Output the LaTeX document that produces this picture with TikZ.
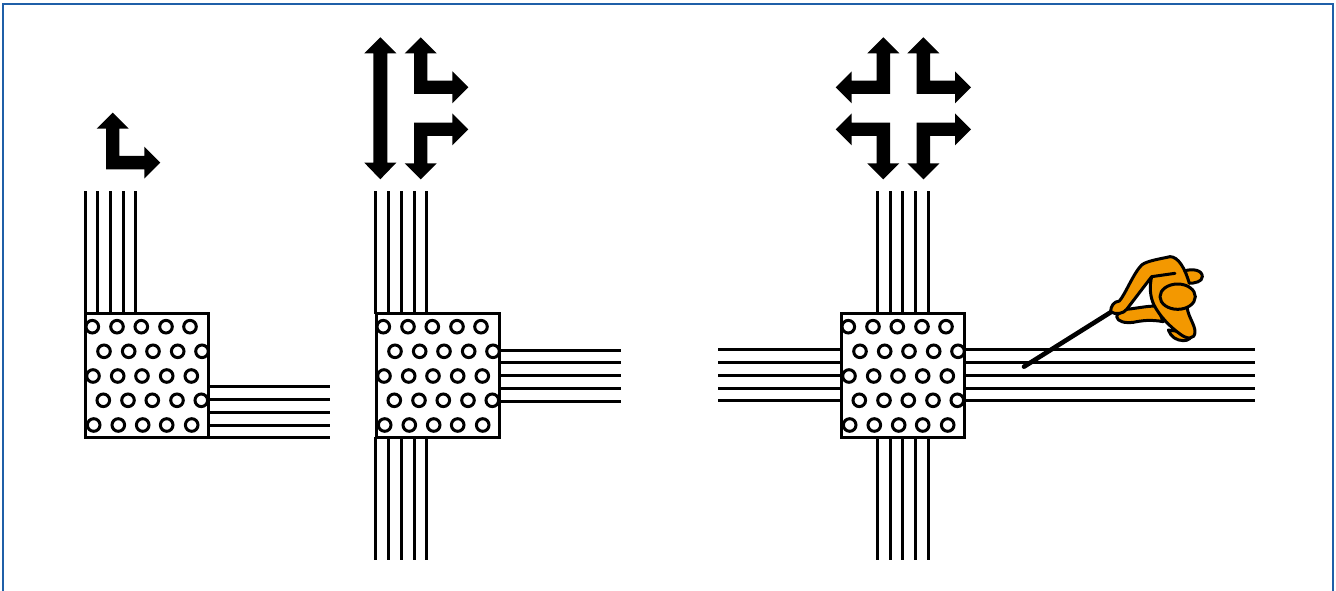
\documentclass[tikz,border=0pt]{standalone}
\definecolor{frameblue}{HTML}{1F5FA8}
\definecolor{walker}{HTML}{F39800}
\tikzset{
  line/.style={line width=3pt,black},
  dot/.style={line width=3pt,black,fill=white},
  tileedge/.style={line width=3pt,black},
  figure/.style={line width=3pt,black,fill=walker,line join=round},
  outline/.style={line width=3pt,black,line join=round,line cap=round},
  tile/.pic={
    \foreach \px/\py in {7.3/13,32/13,56.3/13,81/13,105/13,
                         19/37.6,43.7/37.6,68/37.6,92.7/37.6,117/37.6,
                         8/62.3,32.7/62.3,57/62.3,81.7/62.3,106.3/62.3,
                         18.3/86.6,43/86.6,67.3/86.6,92/86.6,116.3/86.6,
                         8.7/111.3,33.3/111.3,57.7/111.3,81.7/111.3,106.7/111.3}
      \draw[dot] (\px,\py) circle[radius=6.3pt];
    \draw[tileedge] (0,0) rectangle (123.7,123.3);
  }
}
\newcommand{\turnarrow}[4]{%
  \fill[black,shift={(#1,#2)},xscale=#3,yscale=#4]
    (0,0)--(38.3,0)--(38.3,9.3)--(54.3,-6.7)--(38.3,-22.7)--(38.3,-13.3)
    --(13.3,-13.3)--(13.3,-40.7)--(22.7,-40.7)--(6.7,-56.7)--(-9.3,-40.7)--(0,-40.7)--cycle;}
\begin{document}
\begin{tikzpicture}[x=1pt,y=-1pt]
\useasboundingbox (0,0) rectangle (1336,591);
\draw[line width=2pt,frameblue] (3.3,591)--(3.3,4.5)--(1333,4.5)--(1333,591);

% arrows
\turnarrow{106}{169.3}{1}{1}
\fill[black] (380.3,37.3)--(396.3,53.3)--(387.3,53.3)--(387.3,162.7)--(396.3,162.7)--(380.3,179.3)
  --(364.3,162.7)--(373.3,162.7)--(373.3,53.3)--(364.3,53.3)--cycle;
\turnarrow{414}{94}{1}{1}
\turnarrow{414}{122.7}{1}{-1}
\turnarrow{890}{94}{-1}{1}
\turnarrow{916.7}{94}{1}{1}
\turnarrow{890}{122.7}{-1}{-1}
\turnarrow{916.7}{122.7}{1}{-1}

% panel 1
\foreach \vx in {85,97.7,110.3,123.3,135.7} \draw[line] (\vx,191)--(\vx,314);
\foreach \hy in {386,399.3,412,425,437} \draw[line] (209,\hy)--(330,\hy);
\pic at (85,313.7) {tile};

% panel 2
\foreach \vx in {375.5,388,401,414,426.5} {
  \draw[line] (\vx,191)--(\vx,314);
  \draw[line] (\vx,437)--(\vx,560);
}
\foreach \hy in {350,362.5,375.5,388.5,401} \draw[line] (500,\hy)--(621,\hy);
\pic at (376,313.7) {tile};

% panel 3
\foreach \vx in {877,890,902.5,915,928} {
  \draw[line] (\vx,191)--(\vx,314);
  \draw[line] (\vx,437)--(\vx,560);
}
\foreach \hy in {349.5,362,375,388,400.5} {
  \draw[line] (718,\hy)--(841,\hy);
  \draw[line] (965,\hy)--(1255,\hy);
}
\pic at (841,313.7) {tile};

% walker
\begin{scope}[shift={(1000,240)},x=0.3333pt,y=-0.3333pt]
  \draw[line width=4.6pt,black,line cap=round] (72,380)--(335,215);
  % feet
  \draw[figure] (505,270) .. controls (512,290) and (530,302) .. (550,302)
     .. controls (565,302) and (575,295) .. (575,280) -- cycle;
  % far shoulder
  \draw[figure] (555,92) .. controls (580,86) and (607,90) .. (607,110)
     .. controls (607,125) and (585,130) .. (565,130) -- cycle;
  % lower arm
  \draw[figure] (470,198) .. controls (440,198) and (410,205) .. (380,208)
     .. controls (365,212) and (350,222) .. (350,230)
     .. controls (352,245) and (375,250) .. (400,247)
     .. controls (425,242) and (450,238) .. (490,245) -- cycle;
  % body
  \fill[walker] (525,100) -- (455,110)
     .. controls (448,140) and (450,170) .. (462,195)
     .. controls (480,230) and (510,260) .. (540,282)
     .. controls (560,298) and (585,300) .. (585,275)
     .. controls (585,255) and (565,230) .. (562,205)
     -- (570,130) -- cycle;
  \draw[outline] (455,110)
     .. controls (448,140) and (450,170) .. (462,195)
     .. controls (480,230) and (510,260) .. (540,282)
     .. controls (560,298) and (585,300) .. (585,275)
     .. controls (585,255) and (565,230) .. (562,205);
  % near arm and shoulder
  \fill[walker] (525,100) -- (455,110) -- (380,208)
     .. controls (370,222) and (345,225) .. (332,215)
     .. controls (332,200) and (340,185) .. (358,183)
     .. controls (375,165) and (400,100) .. (425,75)
     .. controls (440,62) and (490,55) .. (510,50)
     .. controls (535,50) and (555,85) .. (568,130)
     -- (545,130) -- cycle;
  \draw[outline] (455,110) -- (380,208)
     .. controls (370,222) and (345,225) .. (332,215)
     .. controls (332,200) and (340,185) .. (358,183)
     .. controls (375,165) and (400,100) .. (425,75)
     .. controls (440,62) and (490,55) .. (510,50)
     .. controls (535,50) and (555,85) .. (568,130);
  \draw[outline] (525,100) -- (455,110);
  % head
  \draw[figure] (533,170) ellipse[x radius=53pt*0.3333, y radius=38pt*0.3333];
\end{scope}
\end{tikzpicture}
\end{document}
